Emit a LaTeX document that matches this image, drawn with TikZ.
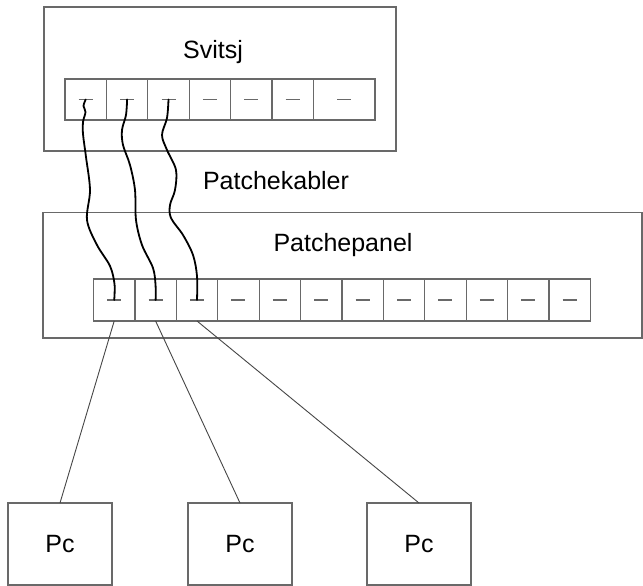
\documentclass[tikz,border=0pt]{standalone}
\usepackage{fontspec}
\setmainfont{Liberation Sans}
\definecolor{linegray}{RGB}{105,105,105}
\definecolor{wiregray}{RGB}{70,70,70}
\begin{document}
\begin{tikzpicture}[x=1pt,y=-1pt,
  frame/.style={draw=linegray, line width=1.3pt, fill=white, rectangle, inner sep=0pt, outer sep=0pt},
  port/.style={draw=linegray, line width=1.2pt, rectangle, inner sep=0pt, outer sep=0pt},
  portdash/.style={draw=linegray, line width=1.1pt},
  cable/.style={draw=black, line width=1.8pt, line cap=round},
  wire/.style={draw=wiregray, line width=0.9pt},
  lbl/.style={font=\fontsize{25}{30}\selectfont, inner sep=0pt, anchor=base},
  pcbox/.style={frame, minimum width=104pt, minimum height=82pt, font=\fontsize{25}{30}\selectfont}]
\useasboundingbox (0,0) rectangle (643,586);
% boxes
\node[frame, minimum width=352pt, minimum height=144pt] (switch) at (220,79) {};
\node[frame, minimum width=599pt, minimum height=125.5pt] (panel) at (342.5,275.25) {};
% labels
\node[lbl] (svitsj) at (213,58.3) {Svitsj};
\node[lbl] (kabler) at (276,189.3) {Patchekabler};
\node[lbl] (paneltxt) at (343,251.5) {Patchepanel};
% switch ports
\foreach \i in {1,...,6}{
  \node[port, minimum width=41.4pt, minimum height=41pt] (s\i) at ({65+41.4*(\i-0.5)},99.5) {};
}
\node[port, minimum width=61.6pt, minimum height=41pt] (s7) at (344.2,99.5) {};
\foreach \i in {1,...,7}{
  \draw[portdash] ([xshift=-7pt]s\i.center) -- ([xshift=7pt]s\i.center);
}
% patch panel ports
\foreach \i in {1,...,12}{
  \node[port, minimum width=41.4pt, minimum height=42pt] (p\i) at ({93.5+41.4*(\i-0.5)},300) {};
  \draw[portdash] ([xshift=-7pt]p\i.center) -- ([xshift=7pt]p\i.center);
}
% PCs
\node[pcbox] (pc1) at (60,544) {Pc};
\node[pcbox] (pc2) at (240,544) {Pc};
\node[pcbox] (pc3) at (419,544) {Pc};
% patch cables
\draw[cable] plot[smooth, tension=0.55] coordinates {(s1.center) (83.5,106) (85.5,112) (83,122) (83,134) (86,157) (90,190) (87,220) (97,245) (110,266) (114.5,284) (p1.center)};
\draw[cable] plot[smooth, tension=0.55] coordinates {(s2.center) (126,115) (122,130) (123,145) (130,165) (135,190) (136,220) (142,245) (153,268) (155.6,286) (p2.center)};
\draw[cable] plot[smooth, tension=0.55] coordinates {(s3.center) (167,118) (162,135) (167,150) (176,170) (175,190) (170,205) (171,218) (183,235) (193,255) (197,276) (p3.center)};
% wires to PCs
\draw[wire] (p1.south) -- (pc1.north);
\draw[wire] (p2.south) -- (pc2.north);
\draw[wire] (p3.south) -- (pc3.north);
\end{tikzpicture}
\end{document}
